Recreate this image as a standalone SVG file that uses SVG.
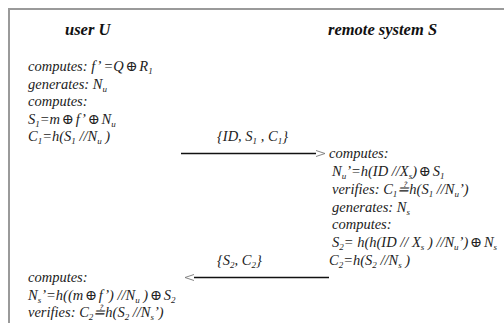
<svg xmlns="http://www.w3.org/2000/svg" width="504" height="323" viewBox="0 0 504 323">
  <style>
    text { font-family: 'Liberation Serif', 'Times New Roman', 'DejaVu Serif', serif; }
    .t { font-style: italic; font-size: 14.5px; fill: #222; }
    .h { font-style: italic; font-weight: bold; font-size: 16.5px; fill: #111; }
    .s { font-size: 9px; }
    .op { letter-spacing: 2px; }
    .frame { fill: none; stroke: #9a9a9a; stroke-width: 2; }
    .msg { fill: none; stroke: #111; stroke-width: 1.4; }
    .tip { fill: none; stroke: #777; stroke-width: 0.9; }
  </style>
  <defs>
    <marker id="chevron" markerUnits="userSpaceOnUse" markerWidth="12" markerHeight="10" refX="0" refY="5" orient="auto" viewBox="0 0 12 10">
      <path class="tip" d="M0,2 L9,5 L0,8"/>
    </marker>
  </defs>
  <rect width="504" height="323" fill="#fff"/>
  <path class="frame" d="M9,323 V9 H504"/>

  <!-- party U: initial computations -->
  <g id="user">
    <text class="h" x="65" y="35">user U</text>
    <text class="t" x="28" y="71">computes: f’ =Q<tspan class="op" dx="1.5">⊕</tspan>R<tspan class="s" dy="3">1</tspan></text>
    <text class="t" x="28" y="89">generates: N<tspan class="s" dy="3">u</tspan></text>
    <text class="t" x="28" y="106">computes:</text>
    <text class="t" x="28" y="124">S<tspan class="s" dy="3">1</tspan><tspan dy="-3">=m</tspan><tspan class="op" dx="1.5">⊕</tspan>f’<tspan class="op" dx="1.5">⊕</tspan>N<tspan class="s" dy="3">u</tspan></text>
    <text class="t" x="28" y="141">C<tspan class="s" dy="3">1</tspan><tspan dy="-3">=h(S</tspan><tspan class="s" dy="3">1</tspan><tspan dy="-3"> //N</tspan><tspan class="s" dy="3">u</tspan><tspan dy="-3"> )</tspan></text>
  </g>

  <!-- party S: verification and response -->
  <g id="server">
    <text class="h" x="328" y="35">remote system S</text>
    <text class="t" x="329" y="158">computes:</text>
    <text class="t" x="332" y="176">N<tspan class="s" dy="3">u</tspan><tspan dy="-3">’=h(ID //X</tspan><tspan class="s" dy="3">s</tspan><tspan dy="-3">)</tspan><tspan class="op" dx="1.5">⊕</tspan>S<tspan class="s" dy="3">1</tspan></text>
    <text class="t" x="332" y="194">verifies: C<tspan class="s" dy="3">1</tspan><tspan dy="-3">≟h(S</tspan><tspan class="s" dy="3">1</tspan><tspan dy="-3"> //N</tspan><tspan class="s" dy="3">u</tspan><tspan dy="-3">’)</tspan></text>
    <text class="t" x="332" y="212">generates: N<tspan class="s" dy="3">s</tspan></text>
    <text class="t" x="332" y="229">computes:</text>
    <text class="t" x="332" y="247">S<tspan class="s" dy="3">2</tspan><tspan dy="-3">= h(h(ID // X</tspan><tspan class="s" dy="3">s</tspan><tspan dy="-3"> ) //N</tspan><tspan class="s" dy="3">u</tspan><tspan dy="-3">’)</tspan><tspan class="op" dx="1.5">⊕</tspan>N<tspan class="s" dy="3">s</tspan></text>
    <text class="t" x="329" y="265">C<tspan class="s" dy="3">2</tspan><tspan dy="-3">=h(S</tspan><tspan class="s" dy="3">2</tspan><tspan dy="-3"> //N</tspan><tspan class="s" dy="3">s</tspan><tspan dy="-3"> )</tspan></text>
  </g>

  <!-- party U: final verification -->
  <g id="user-verify">
    <text class="t" x="28" y="282">computes:</text>
    <text class="t" x="28" y="300">N<tspan class="s" dy="3">s</tspan><tspan dy="-3">’=h((m</tspan><tspan class="op" dx="1.5">⊕</tspan>f’) //N<tspan class="s" dy="3">u</tspan><tspan dy="-3"> )</tspan><tspan class="op" dx="1.5">⊕</tspan>S<tspan class="s" dy="3">2</tspan></text>
    <text class="t" x="28" y="317">verifies: C<tspan class="s" dy="3">2</tspan><tspan dy="-3">≟h(S</tspan><tspan class="s" dy="3">2</tspan><tspan dy="-3"> //N</tspan><tspan class="s" dy="3">s</tspan><tspan dy="-3">’)</tspan></text>
  </g>

  <!-- messages -->
  <g id="messages">
    <path class="msg" d="M181,153.5 H316" marker-end="url(#chevron)"/>
    <text class="t" x="217" y="141">{ID, S<tspan class="s" dy="3">1</tspan><tspan dy="-3"> , C</tspan><tspan class="s" dy="3">1</tspan><tspan dy="-3">}</tspan></text>
    <path class="msg" d="M329,277.5 H194" marker-end="url(#chevron)"/>
    <text class="t" x="217" y="265">{S<tspan class="s" dy="3">2</tspan><tspan dy="-3">, C</tspan><tspan class="s" dy="3">2</tspan><tspan dy="-3">}</tspan></text>
  </g>
</svg>
